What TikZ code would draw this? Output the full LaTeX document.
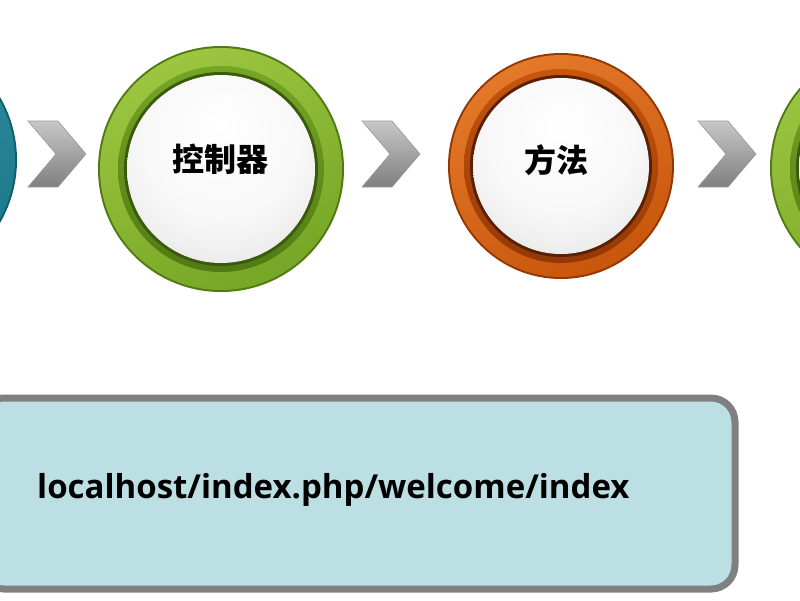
\documentclass[tikz,border=0pt]{standalone}
\usepackage{fontspec}
\newfontfamily\cjk{Noto Sans CJK SC}
\newfontfamily\urlfont{Open Sans}
\definecolor{glight}{HTML}{9CC640}
\definecolor{gmid}{HTML}{76A626}
\definecolor{gdark}{HTML}{507A14}
\definecolor{gdeep}{HTML}{3A5A0C}
\definecolor{olight}{HTML}{E4792A}
\definecolor{omid}{HTML}{C8560C}
\definecolor{odark}{HTML}{933805}
\definecolor{odeep}{HTML}{5A2003}
\definecolor{tlight}{HTML}{2F93A5}
\definecolor{tmid}{HTML}{1D7889}
\definecolor{tdark}{HTML}{135E6B}
\definecolor{tdeep}{HTML}{0C4550}
\definecolor{boxfill}{HTML}{BBDFE3}
\definecolor{boxline}{HTML}{808080}
\pgfdeclareradialshading{pearl}{\pgfpoint{0bp}{12bp}}{color(0bp)=(white); color(22bp)=(white!97!black); color(40bp)=(black!12); color(50bp)=(black!28); color(64bp)=(black!36)}
\newcommand\myring[7]{%
  \fill[#6] (#1) circle (#2);
  \shade[top color=#4, bottom color=#5, shading angle=25] (#1) circle (#2-2);
  \shade[top color=#5, bottom color=#6] (#1) circle (#3+9);
  \fill[#7] (#1) circle (#3+3);
  \shade[shading=pearl] (#1) circle (#3);
}
\tikzset{
  chev/.style={top color=black!22, bottom color=black!50, draw=black!40, line width=0.6},
  ctext/.style={font=\cjk\bfseries\fontsize{32}{32}\selectfont, text=black},
}
\begin{document}
\begin{tikzpicture}[x=1pt,y=-1pt]
\useasboundingbox (0,0) rectangle (800,600);
\clip (0,0) rectangle (800,600);
\fill[white] (0,0) rectangle (800,600);
% circles
\coordinate (t) at (-108,160);
\coordinate (g) at (221,169);
\coordinate (o) at (561,166);
\coordinate (g2) at (893,168);
\myring{t}{125}{96}{tlight}{tmid}{tdark}{tdeep}
\myring{g}{123}{94}{glight}{gmid}{gdark}{gdeep}
\myring{o}{113}{88}{olight}{omid}{odark}{odeep}
\myring{g2}{123}{94}{glight}{gmid}{gdark}{gdeep}
% chevrons
\foreach \cx in {28, 362, 698}{
  \path[chev] (\cx,121) -- ++(30,0) -- ++(28,33) -- ++(-28,33) -- ++(-30,0) -- ++(28,-33) -- cycle;
}
% texts
\node[ctext] (ctrl) at (220,159) {控制器};
\node[ctext] (meth) at (556,160) {方法};
% url box
\draw[line width=7, draw=boxline, fill=boxfill, rounded corners=24] (-20,398) rectangle (735,589);
\node[anchor=base west, inner sep=0, font=\urlfont\bfseries\fontsize{33}{33}\selectfont] (url) at (37,498) {localhost/index.php/welcome/index};
\end{tikzpicture}
\end{document}
